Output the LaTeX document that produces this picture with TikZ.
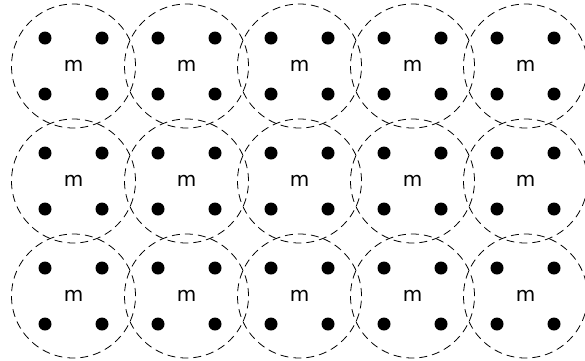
\documentclass[tikz,border=0pt]{standalone}
\usepackage{fontspec}
\setsansfont{DejaVu Sans}
\tikzset{cell/.style={circle,draw,line width=0.8pt,dash pattern=on 8pt off 5pt,minimum size=124pt,inner sep=0pt,font=\sffamily\fontsize{20}{20}\selectfont},
  pin/.style={circle,fill,minimum size=13pt,inner sep=0pt}}

\begin{document}
\begin{tikzpicture}[x=1pt,y=-1pt]
  \useasboundingbox (0,0) rectangle (585,360);
  \foreach \i in {0,...,4}
    \foreach \j in {0,...,2} {
      \pgfmathsetmacro{\cx}{73.5+113*\i}
      \pgfmathsetmacro{\cy}{66+115*\j}
      \node[cell] (m\i\j) at (\cx,\cy) {m};
      \node[pin] (m\i\j-nw) at (\cx-28.5,\cy-28) {};
      \node[pin] (m\i\j-ne) at (\cx+28.5,\cy-28) {};
      \node[pin] (m\i\j-sw) at (\cx-28.5,\cy+28) {};
      \node[pin] (m\i\j-se) at (\cx+28.5,\cy+28) {};
    }
\end{tikzpicture}
\end{document}
